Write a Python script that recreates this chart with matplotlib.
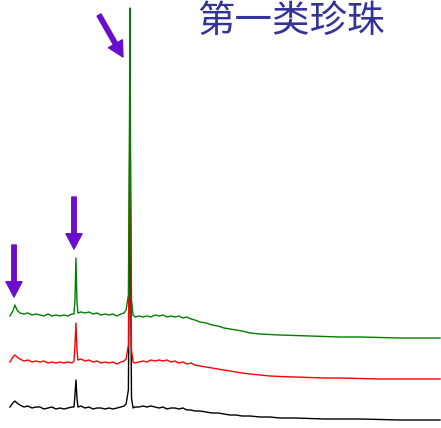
import matplotlib
matplotlib.use("Agg")
import matplotlib.pyplot as plt

plt.rcParams['font.family'] = ['Noto Sans CJK SC', 'DejaVu Sans']

# Raman shift (cm-1)
shift = [238, 259, 273, 288, 308, 337, 365, 394, 421, 450, 478, 507, 534, 563,
         591, 620, 647, 676, 690, 697, 704, 711, 718, 739, 768, 795, 824, 852,
         881, 908, 937, 965, 994, 1021, 1043, 1058, 1074, 1081, 1085, 1089,
         1096, 1107, 1120, 1149, 1177, 1205, 1233, 1262, 1290, 1318, 1346,
         1375, 1403, 1430, 1459, 1487, 1516, 1543, 1579, 1622, 1664, 1706,
         1749, 1791, 1833, 1875, 1932, 2003, 2073, 2144, 2249, 2355, 2461,
         2567, 2709, 2849, 2990, 3132, 3273]

# stacked spectra (already offset)
green = [112, 117, 123, 118, 115, 114, 115, 113, 114, 113, 112, 114, 112, 113,
         112, 113, 112, 114, 114, 128, 170, 126, 115, 116, 115, 116, 114, 115,
         113, 114, 113, 114, 112, 114, 115, 118, 133, 278, 420, 278,
         128, 113, 111, 112, 111, 112, 111, 113, 112, 113, 111,
         112, 111, 112, 110, 111, 109, 108, 106, 105, 103, 102,
         100, 99, 98, 97, 95, 94, 93.5, 93, 92.5, 92, 91.5,
         91, 91, 90.5, 90, 90, 90]

red = [66, 71, 73, 71, 69, 67, 68, 66, 67, 66, 67, 65, 66, 65,
       66, 65, 66, 65, 67, 83, 105, 78, 68, 69, 67, 68, 66, 67,
       65, 66, 65, 66, 64, 66, 67, 69, 83, 228, 388, 228,
       78, 66, 65, 66, 67, 66, 68, 67, 68, 67, 68,
       66, 67, 65, 66, 64, 65, 63, 62, 61, 60, 59,
       58, 57, 56, 55, 54, 53, 52, 51.5, 51, 50.5, 50,
       50, 49.5, 49, 49, 49, 49]

black = [21, 25, 27, 25, 23, 21, 22, 20, 21, 21, 19, 20, 21, 19,
         20, 19, 20, 21, 21, 33, 48, 30, 21, 22, 20, 21, 19, 20,
         20, 19, 20, 19, 20, 21, 22, 24, 38, 178, 348, 178,
         30, 20, 21, 21, 22, 21, 22, 21, 20, 21, 19,
         20, 20, 19, 20, 18, 18, 17, 17, 16, 15, 15,
         14, 13, 13, 12, 12, 11, 11, 10, 10, 9.5, 9,
         9, 9, 8.5, 8, 8, 8]

fig = plt.figure(figsize=(4.41, 4.28), dpi=100)
ax = fig.add_axes([0, 0, 1, 1])

ax.plot(shift, black, color='black', lw=1.0)
ax.plot(shift, red, color='#ff0000', lw=1.0)
ax.plot(shift, green, color='#008000', lw=1.0)

ax.set_xlim(168, 3280)
ax.set_ylim(0, 428)
ax.axis('off')

fig.text(0.66, 0.949, "第一类珍珠", color='#333399', fontsize=27,
         fontweight='medium', ha='center', va='center')

# purple arrows marking the peaks
arrow_col = '#6a0dcc'
arrows = [((14, 183), (14, 131)),
          ((74, 231), (74, 179)),
          ((99, 413), (123, 371))]
for tail, tip in arrows:
    ax.annotate("", xy=tip, xytext=tail,
                xycoords='figure pixels', textcoords='figure pixels',
                arrowprops=dict(arrowstyle="simple,head_width=1.15,head_length=1.1,tail_width=0.32",
                                color=arrow_col, mutation_scale=10,
                                shrinkA=0, shrinkB=0))

fig.savefig("out.png", dpi=100)
